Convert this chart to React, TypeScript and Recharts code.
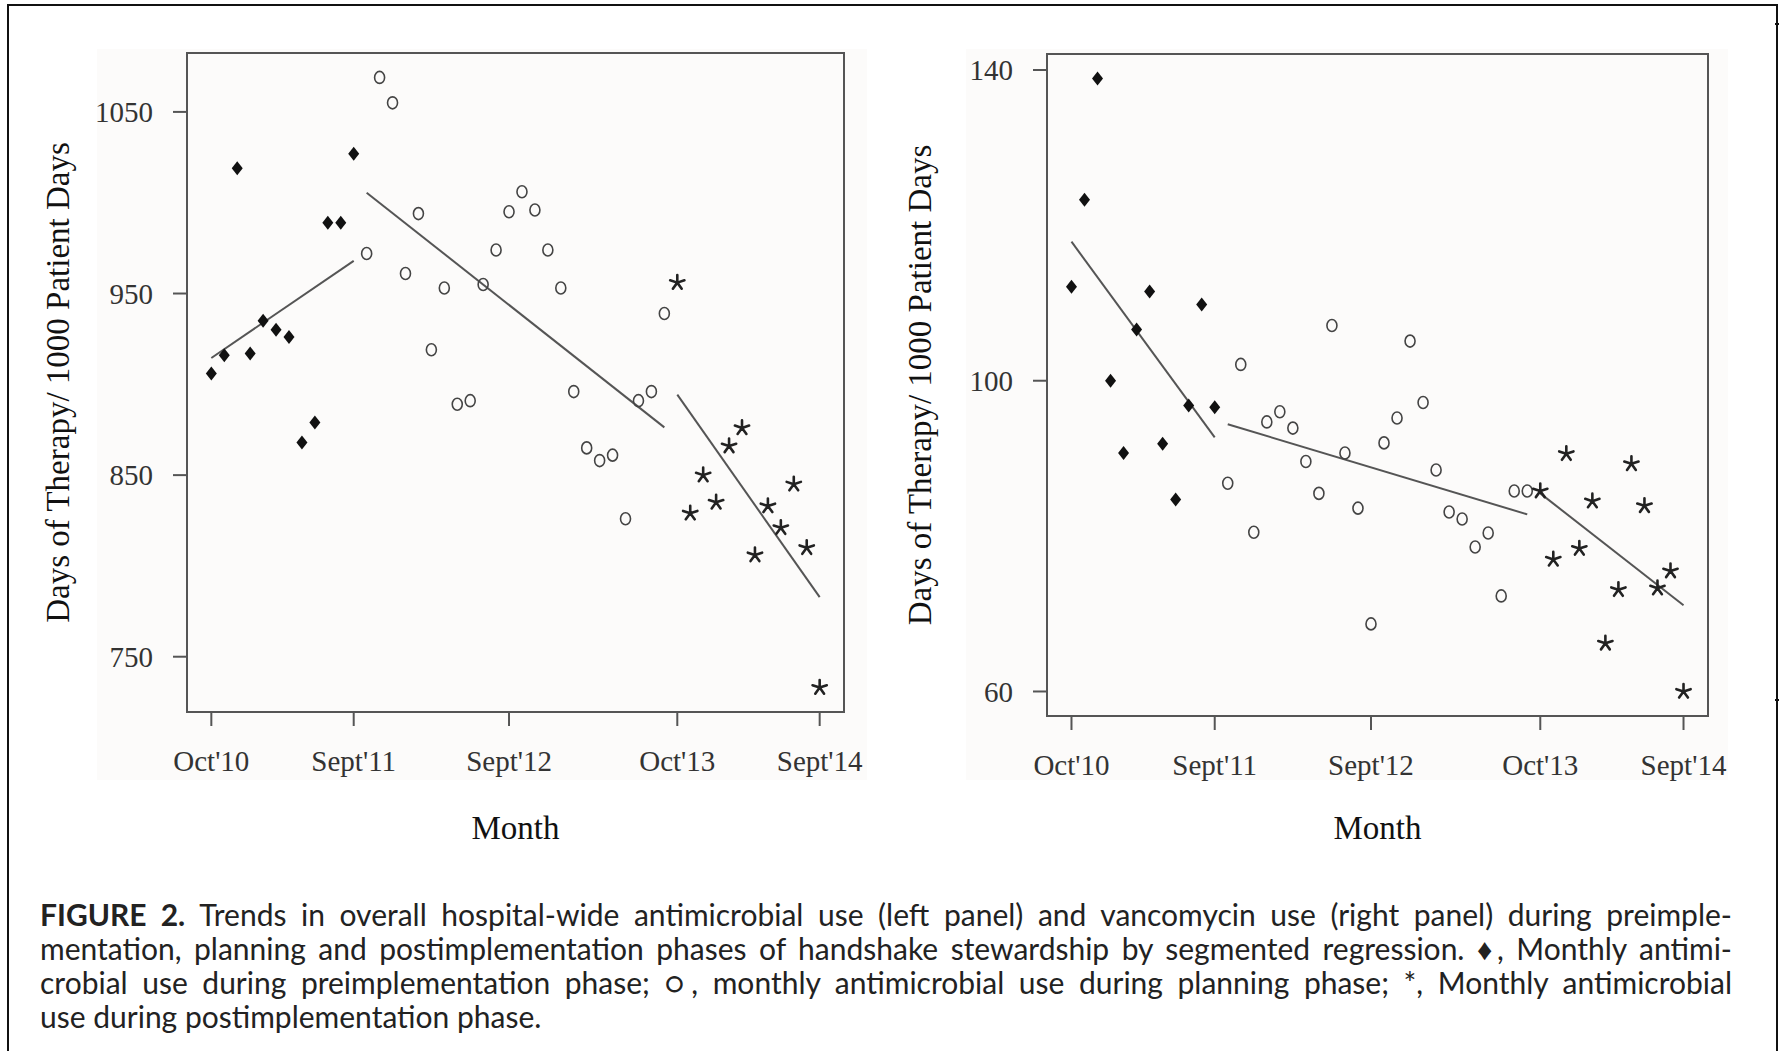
import React from 'react';
import { ScatterChart, Scatter, XAxis, YAxis, ReferenceArea } from 'recharts';

const monthTicks = [0, 11, 23, 36, 47];
const monthLabels = ["Oct'10", "Sept'11", "Sept'12", "Oct'13", "Sept'14"];

// phases: preimplementation months 0-11, planning 12-35, postimplementation 36-47
const preStart = 0;
const planStart = 12;
const postStart = 36;

// left panel - overall antimicrobial use
const allPre = [906, 916, 1019, 917, 935, 930, 926, 868, 879, 989, 989, 1027];
const allPlan = [
  972, 1069, 1055, 961, 994, 919, 953, 889, 891, 955, 974, 995,
  1006, 996, 974, 953, 896, 865, 858, 861, 826, 891, 896, 939,
];
const allPost = [956, 829, 850, 835, 866, 876, 806, 833, 821, 845, 810, 733];
const allPreFit = [914.5, 968];
const allPlanFit = [1005.5, 876.3];
const allPostFit = [894.3, 782.8];
const allTicks = [750, 850, 950, 1050];

// right panel - vancomycin use
const vancPre = [112.1, 123.3, 138.9, 100.0, 90.7, 106.6, 111.5, 91.9, 84.7, 96.8, 109.8, 96.6];
const vancPlan = [
  86.8, 102.1, 80.5, 94.7, 96.0, 93.9, 89.6, 85.5, 107.1, 90.7, 83.6, 68.7,
  92.0, 95.2, 105.1, 97.2, 88.5, 83.1, 82.2, 78.6, 80.4, 72.3, 85.8, 85.8,
];
const vancPost = [85.8, 77.0, 90.6, 78.4, 84.5, 66.2, 73.1, 89.3, 83.9, 73.3, 75.5, 60.0];
const vancPreFit = [117.9, 92.7];
const vancPlanFit = [94.4, 82.8];
const vancPostFit = [85.5, 71.1];
const vancTicks = [60, 100, 140];

const toPoints = (vals: number[], start: number) => vals.map((v, i) => ({ m: start + i, v }));
const toFit = (ends: number[], start: number, len: number) => [
  { m: start, v: ends[0] },
  { m: start + len - 1, v: ends[1] },
];

// R style 4% padding on both axes
const pad = (lo: number, hi: number): [number, number] => {
  const d = (hi - lo) * 0.04;
  return [lo - d, hi + d];
};

const serif = 'Liberation Serif, Times New Roman, serif';
const boxColor = '#555';

const Diamond = (p: any) => (
  <path
    d={`M${p.cx},${p.cy - 7}L${p.cx + 5.5},${p.cy}L${p.cx},${p.cy + 7}L${p.cx - 5.5},${p.cy}Z`}
    fill="#111"
  />
);

const Ring = (p: any) => (
  <ellipse cx={p.cx} cy={p.cy} rx={5} ry={6} fill="none" stroke="#444" strokeWidth={1.6} />
);

const Star = (p: any) => {
  const arms = [0, 1, 2, 3, 4].map((k) => {
    const a = (-90 + k * 72) * (Math.PI / 180);
    return `M${p.cx},${p.cy}L${p.cx + 7.5 * Math.cos(a)},${p.cy + 7.5 * Math.sin(a)}`;
  });
  return <path d={arms.join('')} stroke="#222" strokeWidth={2.6} strokeLinecap="round" fill="none" />;
};

const NoDot = () => <g />;

type PanelProps = {
  pre: number[];
  plan: number[];
  post: number[];
  preFit: number[];
  planFit: number[];
  postFit: number[];
  yTicks: number[];
  left: number;
  marginTop: number;
  marginRight: number;
  xAxisHeight: number;
  titleOffset: number;
};

function Panel(props: PanelProps) {
  const { pre, plan, post, preFit, planFit, postFit, yTicks } = props;
  const all = [...pre, ...plan, ...post];
  const yDomain = pad(Math.min(...all), Math.max(...all));
  const xDomain = pad(0, 47);

  return (
    <div style={{ position: 'absolute', left: props.left, top: 0 }}>
      <ScatterChart
        width={900}
        height={860}
        margin={{ top: props.marginTop, right: props.marginRight, bottom: 0, left: 0 }}
      >
        <XAxis
          type="number"
          dataKey="m"
          domain={xDomain}
          allowDataOverflow
          ticks={monthTicks}
          tickFormatter={(v: number) => monthLabels[monthTicks.indexOf(v)]}
          axisLine={false}
          tickLine={{ stroke: boxColor, strokeWidth: 2 }}
          tickSize={14}
          tickMargin={24}
          tick={{ fontSize: 29, fill: '#333', fontFamily: serif }}
          height={props.xAxisHeight}
          label={{
            value: 'Month',
            position: 'insideBottom',
            offset: 21,
            style: { fontSize: 33, fill: '#111', fontFamily: serif },
          }}
        />
        <YAxis
          type="number"
          dataKey="v"
          domain={yDomain}
          allowDataOverflow
          ticks={yTicks}
          axisLine={false}
          tickLine={{ stroke: boxColor, strokeWidth: 2 }}
          tickSize={14}
          tickMargin={20}
          tick={{ fontSize: 29, fill: '#333', fontFamily: serif }}
          width={187}
          label={{
            value: 'Days of Therapy/ 1000 Patient Days',
            angle: -90,
            position: 'insideLeft',
            offset: props.titleOffset,
            style: { fontSize: 33, fill: '#111', fontFamily: serif, textAnchor: 'middle' },
          }}
        />
        <ReferenceArea
          x1={xDomain[0]}
          x2={xDomain[1]}
          y1={yDomain[0]}
          y2={yDomain[1]}
          fill="none"
          stroke={boxColor}
          strokeWidth={2}
          ifOverflow="visible"
        />
        <Scatter data={toFit(preFit, preStart, pre.length)} line={{ stroke: boxColor, strokeWidth: 2 }} shape={NoDot} isAnimationActive={false} />
        <Scatter data={toFit(planFit, planStart, plan.length)} line={{ stroke: boxColor, strokeWidth: 2 }} shape={NoDot} isAnimationActive={false} />
        <Scatter data={toFit(postFit, postStart, post.length)} line={{ stroke: boxColor, strokeWidth: 2 }} shape={NoDot} isAnimationActive={false} />
        <Scatter data={toPoints(pre, preStart)} shape={Diamond} isAnimationActive={false} />
        <Scatter data={toPoints(plan, planStart)} shape={Ring} isAnimationActive={false} />
        <Scatter data={toPoints(post, postStart)} shape={Star} isAnimationActive={false} />
      </ScatterChart>
    </div>
  );
}

const captionLines = [
  'Trends in overall hospital-wide antimicrobial use (left panel) and vancomycin use (right panel) during preimple-',
  'mentation, planning and postimplementation phases of handshake stewardship by segmented regression. \u2666, Monthly antimi-',
  'crobial use during preimplementation phase; \u25CB, monthly antimicrobial use during planning phase; *, Monthly antimicrobial',
  'use during postimplementation phase.',
];

export default function App() {
  const lineStyle = (last: boolean): React.CSSProperties => ({
    textAlign: 'justify',
    textAlignLast: last ? 'left' : 'justify',
    whiteSpace: 'normal',
  });

  return (
    <div style={{ position: 'absolute', left: 0, top: 0, width: 1779, height: 1051, background: '#fff', overflow: 'hidden' }}>
      {/* figure frame */}
      <div style={{ position: 'absolute', left: 7, top: 4, width: 1767, height: 1060, borderLeft: '2px solid #111', borderTop: '2px solid #111', borderRight: '2px solid #111' }} />
      <div style={{ position: 'absolute', left: 1775, top: 23, width: 4, height: 2, background: '#111' }} />
      <div style={{ position: 'absolute', left: 1775, top: 699, width: 4, height: 2, background: '#111' }} />
      {/* scanned panel backgrounds */}
      <div style={{ position: 'absolute', left: 97, top: 49, width: 770, height: 731, background: '#fcfbfa' }} />
      <div style={{ position: 'absolute', left: 966, top: 49, width: 762, height: 731, background: '#fcfbfa' }} />

      <Panel
        pre={allPre}
        plan={allPlan}
        post={allPost}
        preFit={allPreFit}
        planFit={allPlanFit}
        postFit={allPostFit}
        yTicks={allTicks}
        left={0}
        marginTop={53}
        marginRight={56}
        xAxisHeight={148}
        titleOffset={57}
      />
      <Panel
        pre={vancPre}
        plan={vancPlan}
        post={vancPost}
        preFit={vancPreFit}
        planFit={vancPlanFit}
        postFit={vancPostFit}
        yTicks={vancTicks}
        left={860}
        marginTop={54}
        marginRight={52}
        xAxisHeight={144}
        titleOffset={59}
      />

      <div
        style={{
          position: 'absolute',
          left: 40,
          top: 897,
          width: 1692,
          fontFamily: 'Lato, Open Sans, sans-serif',
          fontSize: 30,
          lineHeight: '34px',
          color: '#222',
        }}
      >
        {captionLines.map((line, i) => (
          <div key={i} style={lineStyle(i === captionLines.length - 1)}>
            {i === 0 && <b>FIGURE 2. </b>}
            {line}
          </div>
        ))}
      </div>
    </div>
  );
}
